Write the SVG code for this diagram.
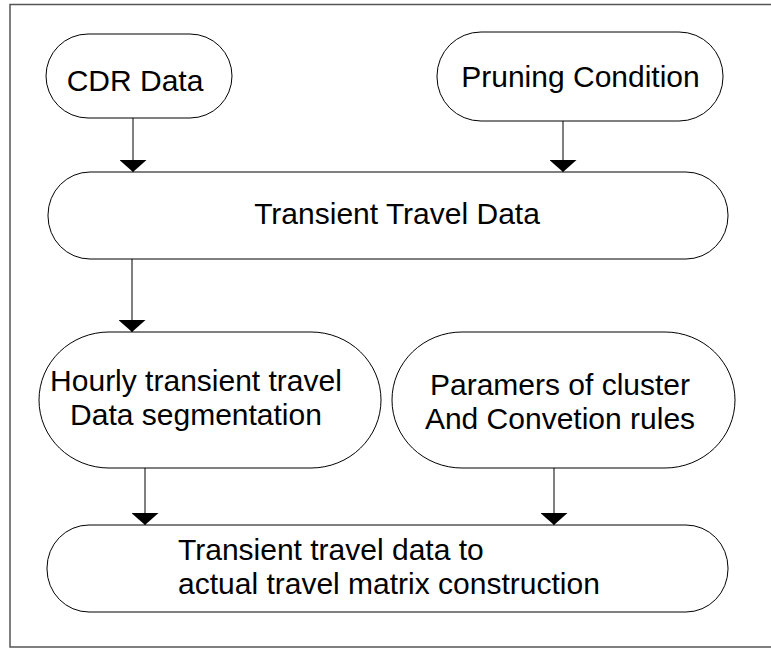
<svg xmlns="http://www.w3.org/2000/svg" width="771" height="648" viewBox="0 0 771 648">
  <style>
    .node { fill: #ffffff; stroke: #000000; stroke-width: 1; }
    .label { font-family: "Liberation Sans", Arial, sans-serif; font-size: 30px; fill: #000000; }
    .conn { stroke: #000000; stroke-width: 1; fill: none; marker-end: url(#arrow); }
  </style>
  <defs>
    <marker id="arrow" markerUnits="userSpaceOnUse" viewBox="0 0 12 27" refX="12" refY="13.5" markerWidth="12" markerHeight="27" orient="auto">
      <path d="M0,0 L12,13.5 L0,27 z" fill="#000000"/>
    </marker>
  </defs>
  <rect width="771" height="648" fill="#ffffff"/>
  <rect id="frame" x="10" y="4.5" width="800" height="642.5" fill="none" stroke="#555555" stroke-width="1.5"/>

  <g id="cdr-data">
    <rect class="node" x="46" y="34" width="186" height="84" rx="42" ry="42"/>
    <text class="label" x="135" y="91" text-anchor="middle">CDR Data</text>
  </g>
  <g id="pruning-condition">
    <rect class="node" x="437" y="32" width="286" height="89" rx="44" ry="44"/>
    <text class="label" x="580.5" y="87" text-anchor="middle">Pruning Condition</text>
  </g>
  <g id="transient-travel-data">
    <rect class="node" x="48" y="172" width="680" height="87" rx="42" ry="43"/>
    <text class="label" x="397" y="224" text-anchor="middle">Transient Travel Data</text>
  </g>
  <g id="hourly-segmentation">
    <rect class="node" x="39" y="332" width="342" height="136" rx="70" ry="68"/>
    <text class="label" x="196" y="391" text-anchor="middle">Hourly transient travel</text>
    <text class="label" x="196" y="425" text-anchor="middle">Data segmentation</text>
  </g>
  <g id="cluster-parameters">
    <rect class="node" x="392" y="332" width="343" height="136" rx="70" ry="68"/>
    <text class="label" x="560" y="395" text-anchor="middle">Paramers of cluster</text>
    <text class="label" x="560" y="429" text-anchor="middle">And Convetion rules</text>
  </g>
  <g id="matrix-construction">
    <rect class="node" x="47" y="525" width="681" height="87" rx="42" ry="43"/>
    <text class="label" x="178" y="560">Transient travel data to</text>
    <text class="label" x="178" y="594">actual travel matrix construction</text>
  </g>

  <g id="connectors">
    <line class="conn" x1="133" y1="118" x2="133" y2="172"/>
    <line class="conn" x1="563" y1="121" x2="563" y2="172"/>
    <line class="conn" x1="132" y1="259" x2="132" y2="332"/>
    <line class="conn" x1="145" y1="468" x2="145" y2="525"/>
    <line class="conn" x1="554" y1="468" x2="554" y2="525"/>
  </g>
</svg>
